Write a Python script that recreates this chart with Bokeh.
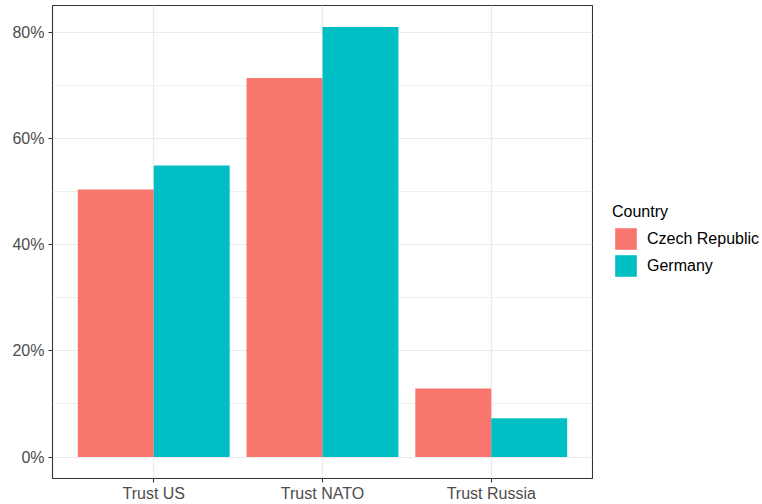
from bokeh.plotting import figure
from bokeh.layouts import row
from bokeh.models import (ColumnDataSource, FactorRange, Range1d, FixedTicker,
                          NumeralTickFormatter, Legend, LegendItem)
from bokeh.transform import dodge
from bokeh.embed import file_html
from bokeh.resources import INLINE

# ---- data ----
categories = ["Trust US", "Trust NATO", "Trust Russia"]
czech = [0.504, 0.714, 0.129]
germany = [0.549, 0.810, 0.073]
countries = ["Czech Republic", "Germany"]
colors = ["#F8766D", "#00BFC4"]
y_ticks = [0, 0.2, 0.4, 0.6, 0.8]
y_minor = [0.1, 0.3, 0.5, 0.7]

FONT = "Liberation Sans"

src = ColumnDataSource(dict(cat=categories, cz=czech, de=germany))

p = figure(width=593, height=504, output_backend="svg", toolbar_location=None,
           x_range=FactorRange(factors=categories, range_padding=0.1,
                               range_padding_units="absolute"),
           y_range=Range1d(-0.0405, 0.8505),
           min_border_left=52, min_border_top=5, min_border_right=1,
           min_border_bottom=24)

p.background_fill_color = "white"
p.border_fill_color = "white"
p.outline_line_color = "#333333"
p.outline_line_width = 1.1

r1 = p.vbar(x=dodge("cat", -0.225, range=p.x_range), top="cz", bottom=0,
            width=0.45, source=src, fill_color=colors[0], line_color=None)
r2 = p.vbar(x=dodge("cat", 0.225, range=p.x_range), top="de", bottom=0,
            width=0.45, source=src, fill_color=colors[1], line_color=None)

# axes
p.yaxis.ticker = FixedTicker(ticks=y_ticks, minor_ticks=y_minor)
p.yaxis.formatter = NumeralTickFormatter(format="0%")
for ax in (p.xaxis[0], p.yaxis[0]):
    ax.axis_line_color = None
    ax.major_tick_line_color = "#333333"
    ax.major_tick_line_width = 1.1
    ax.major_tick_out = 4
    ax.major_tick_in = 0
    ax.minor_tick_line_color = None
    ax.major_label_text_font = FONT
    ax.major_label_text_font_size = "16px"
    ax.major_label_text_color = "#4D4D4D"
p.yaxis.major_label_standoff = 4
p.xaxis.major_label_standoff = 2

# grid
p.xgrid.grid_line_color = "#EBEBEB"
p.xgrid.grid_line_width = 1.2
p.ygrid.grid_line_color = "#EBEBEB"
p.ygrid.grid_line_width = 1.2
p.ygrid.minor_grid_line_color = "#EBEBEB"
p.ygrid.minor_grid_line_width = 0.8

# legend figure (separate panel to the right)
lp = figure(width=169, height=504, output_backend="svg", toolbar_location=None,
            x_axis_type=None, y_axis_type=None,
            x_range=Range1d(0, 1), y_range=Range1d(0, 1),
            min_border_left=0, min_border_right=0, min_border_top=0,
            min_border_bottom=0)
lp.outline_line_color = None
lp.background_fill_color = "white"
lp.border_fill_color = "white"
lp.xgrid.visible = False
lp.ygrid.visible = False
# off-screen proxy glyphs, used only for the legend keys
k1 = lp.vbar(x=[5], top=[6], bottom=[5], width=0.1,
             fill_color=colors[0], line_color=None)
k2 = lp.vbar(x=[5], top=[6], bottom=[5], width=0.1,
             fill_color=colors[1], line_color=None)

legend = Legend(items=[LegendItem(label=countries[0], renderers=[k1]),
                       LegendItem(label=countries[1], renderers=[k2])],
                location=(19, 199), title="Country",
                title_text_font=FONT, title_text_font_size="16px",
                title_text_font_style="normal", title_text_color="black",
                title_standoff=4,
                label_text_font=FONT, label_text_font_size="16px",
                label_text_color="black",
                glyph_width=27, glyph_height=27, label_height=27,
                label_standoff=8, spacing=-4, padding=0, margin=0,
                background_fill_color=None, border_line_color=None)
lp.add_layout(legend, "center")

layout = row(p, lp)
open("out.html", "w").write(file_html(layout, INLINE))
